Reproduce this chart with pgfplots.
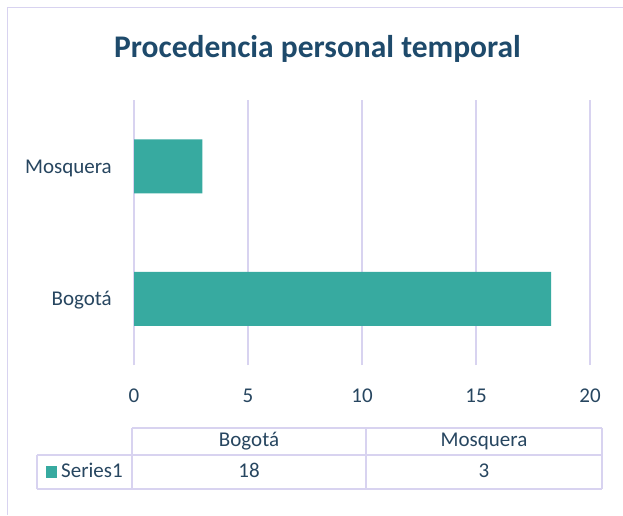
\documentclass[border=0pt]{standalone}
\usepackage{fontspec}
\setmainfont{Carlito}
\usepackage{pgfplots}
\pgfplotsset{compat=1.18}
\definecolor{barc}{HTML}{37AAA0}
\definecolor{gridc}{HTML}{D8D3F0}
\definecolor{titc}{HTML}{1E4A6B}
\definecolor{txtc}{HTML}{274660}
\begin{document}
\begin{tikzpicture}[x=1pt,y=1pt]
\path[use as bounding box] (0,0) rectangle (623,515);
\fill[white] (0,0) rectangle (623,515);
\draw[gridc, line width=1.5pt] (7.5,0) -- (7.5,507.5) -- (623,507.5);
\node[titc, anchor=base, inner sep=0pt, font=\fontsize{31.5}{36}\selectfont\bfseries] at (317.5,457) {Procedencia personal temporal};
\begin{axis}[
  at={(134pt,150pt)}, anchor=south west,
  scale only axis, width=456pt, height=265pt,
  xmin=0, xmax=20, ymin=-0.5, ymax=1.5,
  xbar, bar width=54pt,
  axis line style={draw=none},
  major tick length=0pt,
  xmajorgrids, grid style={gridc, line width=1.5pt},
  xtick={0,5,10,15,20},
  ytick={0,1}, yticklabels={Bogotá,Mosquera},
  tick label style={font=\fontsize{21}{25}\selectfont, text=txtc, inner sep=0pt},
  /pgf/number format/assume math mode=true,
  xticklabel style={anchor=base, yshift=-37pt},
  yticklabel style={anchor=base east, xshift=-22pt, yshift=-7pt},
]
\addplot[fill=barc, draw=none] coordinates {(18.3,0) (3,1)};
\end{axis}
% data table
\begin{scope}[gridc, line width=1.5pt]
\draw (132,87) -- (602,87);
\draw (37,60) -- (602,60);
\draw (37,26) -- (602,26);
\draw (132,26) -- (132,87);
\draw (366,26) -- (366,87);
\draw (602,26) -- (602,87);
\draw (37,26) -- (37,60);
\end{scope}
\begin{scope}[every node/.style={txtc, inner sep=0pt, font=\fontsize{21}{25}\selectfont}]
\node[anchor=base] at (249,69) {Bogotá};
\node[anchor=base] at (484,69) {Mosquera};
\node[anchor=base] at (249,38) {18};
\node[anchor=base] at (484,38) {3};
\fill[barc] (46,37) rectangle (57,49);
\node[anchor=base west] at (61,38) {Series1};
\end{scope}
\end{tikzpicture}
\end{document}
